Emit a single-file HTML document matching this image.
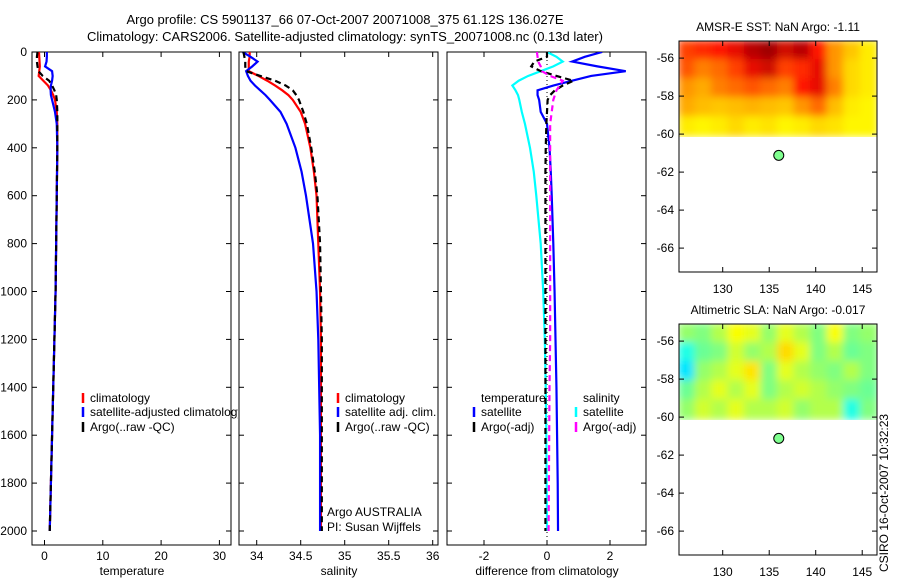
<!DOCTYPE html>
<html><head><meta charset="utf-8"><style>
body{margin:0;background:#fff;}
svg{display:block;font-family:"Liberation Sans",sans-serif;}
text{font-size:12px;fill:#000;}
</style></head><body>
<svg id="c" width="900" height="580" viewBox="0 0 900 580">
<defs>
<clipPath id="cp1"><rect x="32" y="52" width="199" height="493"/></clipPath>
<clipPath id="cp2"><rect x="239" y="52" width="199" height="493"/></clipPath>
<clipPath id="cp3"><rect x="447" y="52" width="199" height="493"/></clipPath>
<clipPath id="cl1"><rect x="0" y="0" width="238" height="580"/></clipPath>
<clipPath id="cm1"><rect x="679" y="41" width="198" height="96"/></clipPath>
<clipPath id="cm2"><rect x="679" y="324" width="198" height="96"/></clipPath>
<filter id="bl" x="-10%" y="-10%" width="120%" height="120%"><feGaussianBlur stdDeviation="4"/></filter>
</defs>
<text x="345" y="24" text-anchor="middle" style="font-size:13px">Argo profile: CS 5901137_66 07-Oct-2007 20071008_375 61.12S 136.027E</text>
<text x="345" y="41" text-anchor="middle" style="font-size:13px">Climatology: CARS2006. Satellite-adjusted climatology: synTS_20071008.nc (0.13d later)</text>
<g id="g"></g>
</svg>
<script>
const depths=[0,20,40,60,80,100,120,140,160,180,200,250,300,400,500,600,800,1000,1200,1400,1600,1800,2000];
const tClim=[-0.95,-0.9,-0.85,-0.8,-0.9,-1.0,-0.2,0.6,1.1,1.5,1.8,2.1,2.2,2.2,2.15,2.1,2.0,1.9,1.7,1.5,1.3,1.1,0.9];
const tSat=[0.4,0.4,0.35,0.1,1.3,1.4,1.3,1.1,1.05,1.1,1.3,1.8,2.1,2.2,2.15,2.1,2.0,1.9,1.7,1.5,1.3,1.1,0.9];
const tArgo=[-1.2,-1.3,-1.3,-1.2,-1.05,-0.3,0.8,1.3,1.7,2.0,2.1,2.2,2.2,2.2,2.15,2.1,2.0,1.9,1.7,1.5,1.3,1.1,0.9];
const sClim=[33.92,33.92,33.91,33.91,33.91,34.02,34.12,34.21,34.29,34.36,34.41,34.5,34.55,34.61,34.65,34.68,34.7,34.72,34.73,34.73,34.73,34.73,34.73];
const sSat=[33.84,33.93,34.01,33.95,33.88,33.9,33.93,33.98,34.04,34.1,34.15,34.27,34.34,34.44,34.51,34.56,34.64,34.68,34.7,34.71,34.72,34.72,34.72];
const sArgo=[33.85,33.86,33.87,33.87,33.88,34.04,34.21,34.33,34.41,34.45,34.48,34.53,34.57,34.62,34.66,34.69,34.72,34.73,34.74,34.74,34.74,34.74,34.74];
const dTSat=[1.75,1.2,0.8,1.6,2.5,1.4,0.8,0.2,-0.3,-0.3,-0.25,-0.2,0,0.08,0.12,0.15,0.2,0.24,0.27,0.3,0.32,0.34,0.35];
const dSSat=[0,0.3,0.5,0.2,-0.2,-0.6,-0.9,-1.1,-1.0,-0.92,-0.88,-0.8,-0.7,-0.54,-0.42,-0.34,-0.2,-0.12,-0.07,-0.04,-0.02,-0.01,0];
const dTArgo=[0,0,-0.4,-0.5,-0.2,0.3,0.84,0.5,0.25,0.1,0.02,0,-0.02,-0.04,-0.05,-0.05,-0.05,-0.05,-0.05,-0.05,-0.05,-0.05,-0.05];
const dSArgo=[-0.32,-0.3,-0.28,-0.2,-0.16,0.1,0.5,0.4,0.3,0.25,0.2,0.15,0.1,0.1,0.1,0.1,0.1,0.1,0.1,0.08,0.07,0.06,0.05];
const yTicks=[0,200,400,600,800,1000,1200,1400,1600,1800,2000];
const tTicks=[0,10,20,30], sTicks=[34,34.5,35,35.5,36], dTicks=[-2,0,2];
const lonTicks=[130,135,140,145], latTicks=[-56,-58,-60,-62,-64,-66];
const sstGrid=[[0.7,0.75,0.8,0.85,0.95,1.0,0.9,0.95,0.8,0.5,0.3,0.1],[0.65,0.55,0.6,0.7,0.85,0.9,0.7,0.75,0.85,0.5,0.2,0.1],[0.5,0.45,0.55,0.6,0.65,0.6,0.55,0.8,0.85,0.55,0.2,0.1],[0.45,0.35,0.3,0.35,0.4,0.35,0.3,0.5,0.6,0.35,0.1,0.05],[0.1,0.05,0.1,0.2,0.1,0.15,0.05,0.1,0.2,0.15,0.05,0.05]];
const slaGrid=[[.52,.5,.55,.62,.6,.52,.6,.55,.5,.62,.5,.52],[.4,.48,.5,.58,.52,.55,.66,.6,.5,.55,.48,.5],[.35,.52,.55,.6,.65,.5,.6,.55,.52,.5,.55,.5],[.48,.55,.6,.55,.6,.5,.55,.58,.55,.52,.5,.48],[.52,.58,.55,.6,.55,.55,.58,.52,.55,.55,.4,.5]];
const argoLon=136.027, argoLat=-61.12;

const NS='http://www.w3.org/2000/svg', G=document.getElementById('g');
function el(t,a,p){const e=document.createElementNS(NS,t);for(const k in a)e.setAttribute(k,a[k]);(p||G).appendChild(e);return e;}
const yD=d=>52+d*0.2395;
const panels=[
 {x0:32,cl:'cp1',sx:v=>44.5+v*5.83,ticks:tTicks,lab:'temperature',n:'temperature'},
 {x0:239,cl:'cp2',sx:v=>256.7+(v-34)*88,ticks:sTicks,lab:'salinity',n:'salinity'},
 {x0:447,cl:'cp3',sx:v=>547+v*31.5,ticks:dTicks,lab:'difference from climatology',n:'difference'}];
panels.forEach((p,i)=>{
 const r=el('rect',{x:p.x0,y:52,width:199,height:493,fill:'#fff',stroke:'#000','stroke-width':1});
 
 p.ticks.forEach(t=>{const x=p.sx(t);el('line',{x1:x,x2:x,y1:52,y2:57,stroke:'#000'});el('line',{x1:x,x2:x,y1:545,y2:540,stroke:'#000'});
  const tx=el('text',{x:x,y:560,'text-anchor':'middle'});tx.textContent=t;});
 yTicks.forEach(d=>{const y=yD(d);el('line',{x1:p.x0,x2:p.x0+5,y1:y,y2:y,stroke:'#000'});el('line',{x1:p.x0+199,x2:p.x0+194,y1:y,y2:y,stroke:'#000'});
  if(i==0){const tx=el('text',{x:27,y:y+4,'text-anchor':'end'});tx.textContent=d;}});
 const al=el('text',{x:p.x0+100,y:575,'text-anchor':'middle'});al.textContent=p.lab;
});
function line(vals,p,col,dash,name){
 const g=el('g',{'clip-path':'url(#'+p.cl+')'});
 const pl=el('polyline',{points:vals.map((v,k)=>p.sx(v)+','+yD(depths[k])).join(' '),fill:'none',stroke:col,'stroke-width':2.2,'stroke-dasharray':dash||'none'},g);
 }
el('line',{x1:547,x2:547,y1:52,y2:545,stroke:'#000','stroke-dasharray':'1,3'});
line(tClim,panels[0],'#f00','','temperature-climatology-line');
line(tSat,panels[0],'#00f','','temperature-satellite-line');
line(tArgo,panels[0],'#000','6,4','temperature-argo-line');
line(sClim,panels[1],'#f00','','salinity-climatology-line');
line(sSat,panels[1],'#00f','','salinity-satellite-line');
line(sArgo,panels[1],'#000','6,4','salinity-argo-line');
line(dSSat,panels[2],'#0ff','','salinity-diff-satellite-line');
line(dTSat,panels[2],'#00f','','temperature-diff-satellite-line');
line(dTArgo,panels[2],'#000','6,4','temperature-diff-argo-line');
line(dSArgo,panels[2],'#f0f','6,4','salinity-diff-argo-line');
const lg1=el('g',{'clip-path':'url(#cl1)'});
function leg(x,y,col,txt,name,par){el('line',{x1:x,x2:x,y1:y-9,y2:y+1,stroke:col,'stroke-width':2.5},par);
 const t=el('text',{x:x+7,y:y},par);t.textContent=txt;}
leg(83,402,'#f00','climatology','legend-climatology',lg1);
leg(83,416,'#00f','satellite-adjusted climatology','legend-satellite-adjusted',lg1);
leg(83,431,'#000','Argo(..raw -QC)','legend-argo',lg1);
leg(338,402,'#f00','climatology','legend-sal-climatology');
leg(338,416,'#00f','satellite adj. clim.','legend-sal-satellite');
leg(338,431,'#000','Argo(..raw -QC)','legend-sal-argo');
leg(474,416,'#00f','satellite','legend-diff-temp-satellite');
leg(474,431,'#000','Argo(-adj)','legend-diff-temp-argo');
leg(576,416,'#0ff','satellite','legend-diff-sal-satellite');
leg(576,431,'#f0f','Argo(-adj)','legend-diff-sal-argo');
[['temperature',481,402],['salinity',583,402],['Argo AUSTRALIA',327,516],['PI: Susan Wijffels',327,531]].forEach(a=>{const t=el('text',{x:a[1],y:a[2]});t.textContent=a[0];});
function sstCol(t){const st=[[0,[255,255,0]],[0.45,[255,170,0]],[0.8,[255,20,0]],[1,[160,0,0]]];
 for(let i=1;i<st.length;i++)if(t<=st[i][0]){const a=st[i-1],b=st[i],f=(t-a[0])/(b[0]-a[0]);return 'rgb('+a[1].map((c,k)=>Math.round(c+(b[1][k]-c)*f)).join(',')+')';}return 'rgb(160,0,0)';}
function jet(v){const r=Math.min(Math.max(Math.min(4*v-1.5,-4*v+4.5),0),1),g=Math.min(Math.max(Math.min(4*v-0.5,-4*v+3.5),0),1),b=Math.min(Math.max(Math.min(4*v+0.5,-4*v+2.5),0),1);return 'rgb('+[r,g,b].map(c=>Math.round(c*255)).join(',')+')';}
function map(top,grid,cf,title,nm,clip){
 const lx=v=>679+(v-125.3)*9.3, ly=v=>top+(-55.1-v)*19;
 const tt=el('text',{x:778,y:top-10,'text-anchor':'middle'});tt.textContent=title;
 const cg=el('g',{'clip-path':'url(#'+clip+')'});const hg=el('g',{filter:'url(#bl)'},cg);
 const cw=21.3/12;
 grid.forEach((row,r)=>row.forEach((v,c)=>{const x=lx(125.3+c*cw),y=ly(-55.1-r);
  const rc=el('rect',{x:x-1,y:y-1,width:cw*9.3+2,height:21,fill:cf(v)},hg);
  }));
 const fr=el('rect',{x:679,y:top,width:198,height:231,fill:'none',stroke:'#000'});
 lonTicks.forEach(v=>{const x=lx(v);el('line',{x1:x,x2:x,y1:top,y2:top+5,stroke:'#000'});el('line',{x1:x,x2:x,y1:top+231,y2:top+226,stroke:'#000'});
  const t=el('text',{x:x,y:top+252,'text-anchor':'middle'});t.textContent=v;});
 latTicks.forEach(v=>{const y=ly(v);el('line',{x1:679,x2:684,y1:y,y2:y,stroke:'#000'});el('line',{x1:877,x2:872,y1:y,y2:y,stroke:'#000'});
  const t=el('text',{x:674,y:y+4,'text-anchor':'end'});t.textContent=v;});
 const d=el('circle',{cx:lx(argoLon),cy:ly(argoLat),r:5,fill:'#7fff8f',stroke:'#000'});
}
map(41,sstGrid,sstCol,'AMSR-E SST: NaN Argo: -1.11','sst-map','cm1');
map(324,slaGrid,jet,'Altimetric SLA: NaN Argo: -0.017','sla-map','cm2');
const cs=el('text',{x:0,y:0,transform:'translate(888,572) rotate(-90)'});cs.textContent='CSIRO 16-Oct-2007 10:32:23';

</script>
</body></html>
